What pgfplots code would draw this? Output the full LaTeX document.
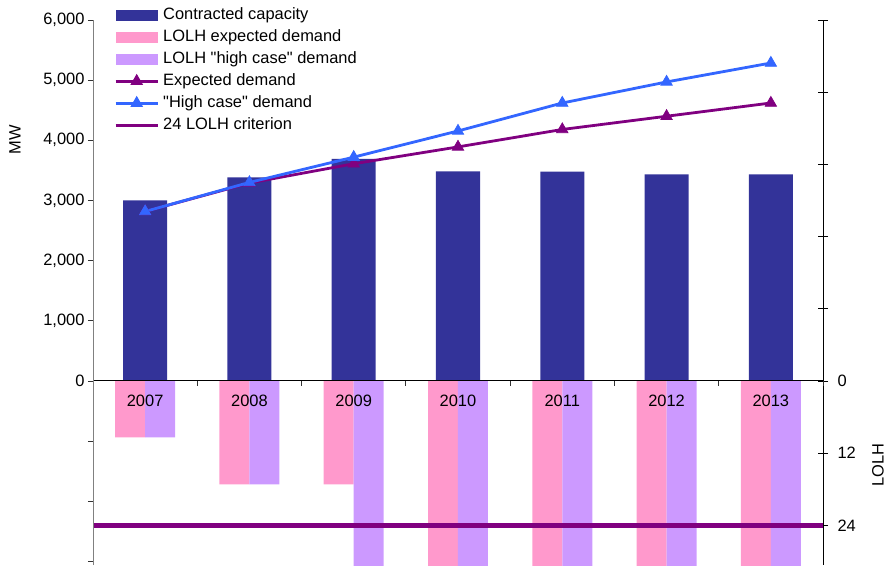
\documentclass[border=0pt]{standalone}
\usepackage{fontspec}
\setmainfont{Liberation Sans}[Ligatures=TeXOff]
\usepackage{pgfplots}
\pgfplotsset{compat=1.18}

\definecolor{capblue}{HTML}{333399}
\definecolor{lolhpink}{HTML}{FF99CC}
\definecolor{lolhlilac}{HTML}{CC99FF}
\definecolor{expplum}{HTML}{800080}
\definecolor{highblue}{HTML}{3366FF}
\newcommand{\chartfont}{\fontsize{16.5}{19}\selectfont}

\pgfplotsset{
  barlegend/.style={legend image code/.code={\fill[##1] (0bp,-5.5bp) rectangle (42bp,5.5bp);}},
  marklegend/.style={legend image code/.code={\draw[mark repeat=2,mark phase=2,##1] plot coordinates {(0bp,0bp) (21bp,0bp) (42bp,0bp)};}},
  rulelegend/.style={legend image code/.code={\draw[##1] (0bp,0bp) -- (42bp,0bp);}},
}

\begin{document}
\begin{tikzpicture}
\path[use as bounding box] (0,0) rectangle (890bp,567bp);

% Loss-of-load hours, right axis, growing downward from zero
\begin{axis}[
  at={(93bp,2bp)}, anchor=south west,
  scale only axis, width=730bp, height=545bp,
  xmin=-0.5, xmax=6.5,
  ymin=-60, ymax=30.6, y dir=reverse,
  axis x line=none,
  axis y line*=right,
  y axis line style={draw=black, line width=0.8bp},
  ytick={-60,-48,...,24},
  yticklabels={,,,,,0,12,24},
  tick align=center, major tick length=10bp,
  ytick style={draw=black, line width=0.8bp},
  tick label style={font=\chartfont},
  yticklabel style={xshift=6bp},
  ylabel={LOLH},
  ylabel style={font=\chartfont, at={(axis description cs:1.0753,0.1835)}, anchor=center},
]
\addplot[ybar, bar width=0.2877, bar shift=-0.1438, fill=lolhpink, draw=none]
  coordinates {(0,9.4) (1,17.2) (2,17.2) (3,38) (4,55) (5,72) (6,90)};
\addplot[ybar, bar width=0.2877, bar shift=0.1438, fill=lolhlilac, draw=none]
  coordinates {(0,9.4) (1,17.2) (2,36) (3,62) (4,95) (5,130) (6,165)};
\addplot[sharp plot, expplum, line width=4.5bp]
  coordinates {(-0.5,24) (6.5,24)};
\end{axis}

% Capacity and demand, left axis in MW
\begin{axis}[
  at={(93bp,2bp)}, anchor=south west,
  scale only axis, width=730bp, height=545bp,
  xmin=-0.5, xmax=6.5,
  ymin=-3060, ymax=6000,
  axis y line*=left, axis x line*=middle,
  hide obscured x ticks=false, hide obscured y ticks=false,
  axis on top,
  y axis line style={draw=gray, line width=1bp},
  x axis line style={draw=black, line width=1bp},
  tick align=outside, major tick length=5bp,
  tick style={draw=black!80, line width=0.8bp},
  ytick={-3000,-2000,...,6000},
  yticklabels={,,,0,{1,000},{2,000},{3,000},{4,000},{5,000},{6,000}},
  xtick={-0.5,0.5,...,6.5},
  xticklabels={,,,,,,,},
  extra x ticks={0,1,...,6},
  extra x tick labels={2007,2008,2009,2010,2011,2012,2013},
  extra x tick style={major tick length=0pt},
  tick label style={font=\chartfont},
  xticklabel style={anchor=north, yshift=-10.5bp},
  ylabel={MW},
  ylabel style={font=\chartfont, at={(axis description cs:-0.1068,0.7798)}, anchor=center},
  legend style={draw=none, fill=none, inner sep=0pt, row sep=0pt, column sep=2bp,
    font=\chartfont, at={(axis description cs:0.0288,1.0294)}, anchor=north west,
    nodes={inner xsep=2bp, inner ysep=3bp, text height=12bp, text depth=4bp}},
  legend cell align=left,
]
\addplot[ybar, bar width=0.422, bar shift=0, fill=capblue, draw=none, barlegend]
  coordinates {(0,3000) (1,3383) (2,3690) (3,3483) (4,3480) (5,3433) (6,3433)};
\addlegendimage{barlegend, fill=lolhpink, draw=none}
\addlegendimage{barlegend, fill=lolhlilac, draw=none}
\addplot[sharp plot, expplum, line width=2.8bp, mark=triangle*, mark size=6.5bp, mark options={line width=0.8bp}, marklegend]
  coordinates {(0,2817) (1,3290) (2,3610) (3,3890) (4,4180) (5,4400) (6,4620)};
\addplot[sharp plot, highblue, line width=2.8bp, mark=triangle*, mark size=6.5bp, mark options={line width=0.8bp}, marklegend]
  coordinates {(0,2817) (1,3300) (2,3720) (3,4155) (4,4620) (5,4970) (6,5285)};
\addlegendimage{rulelegend, expplum, line width=3bp}
\legend{Contracted capacity, LOLH expected demand, LOLH "high case" demand, Expected demand, "High case" demand, 24 LOLH criterion}
\end{axis}
\end{tikzpicture}
\end{document}
